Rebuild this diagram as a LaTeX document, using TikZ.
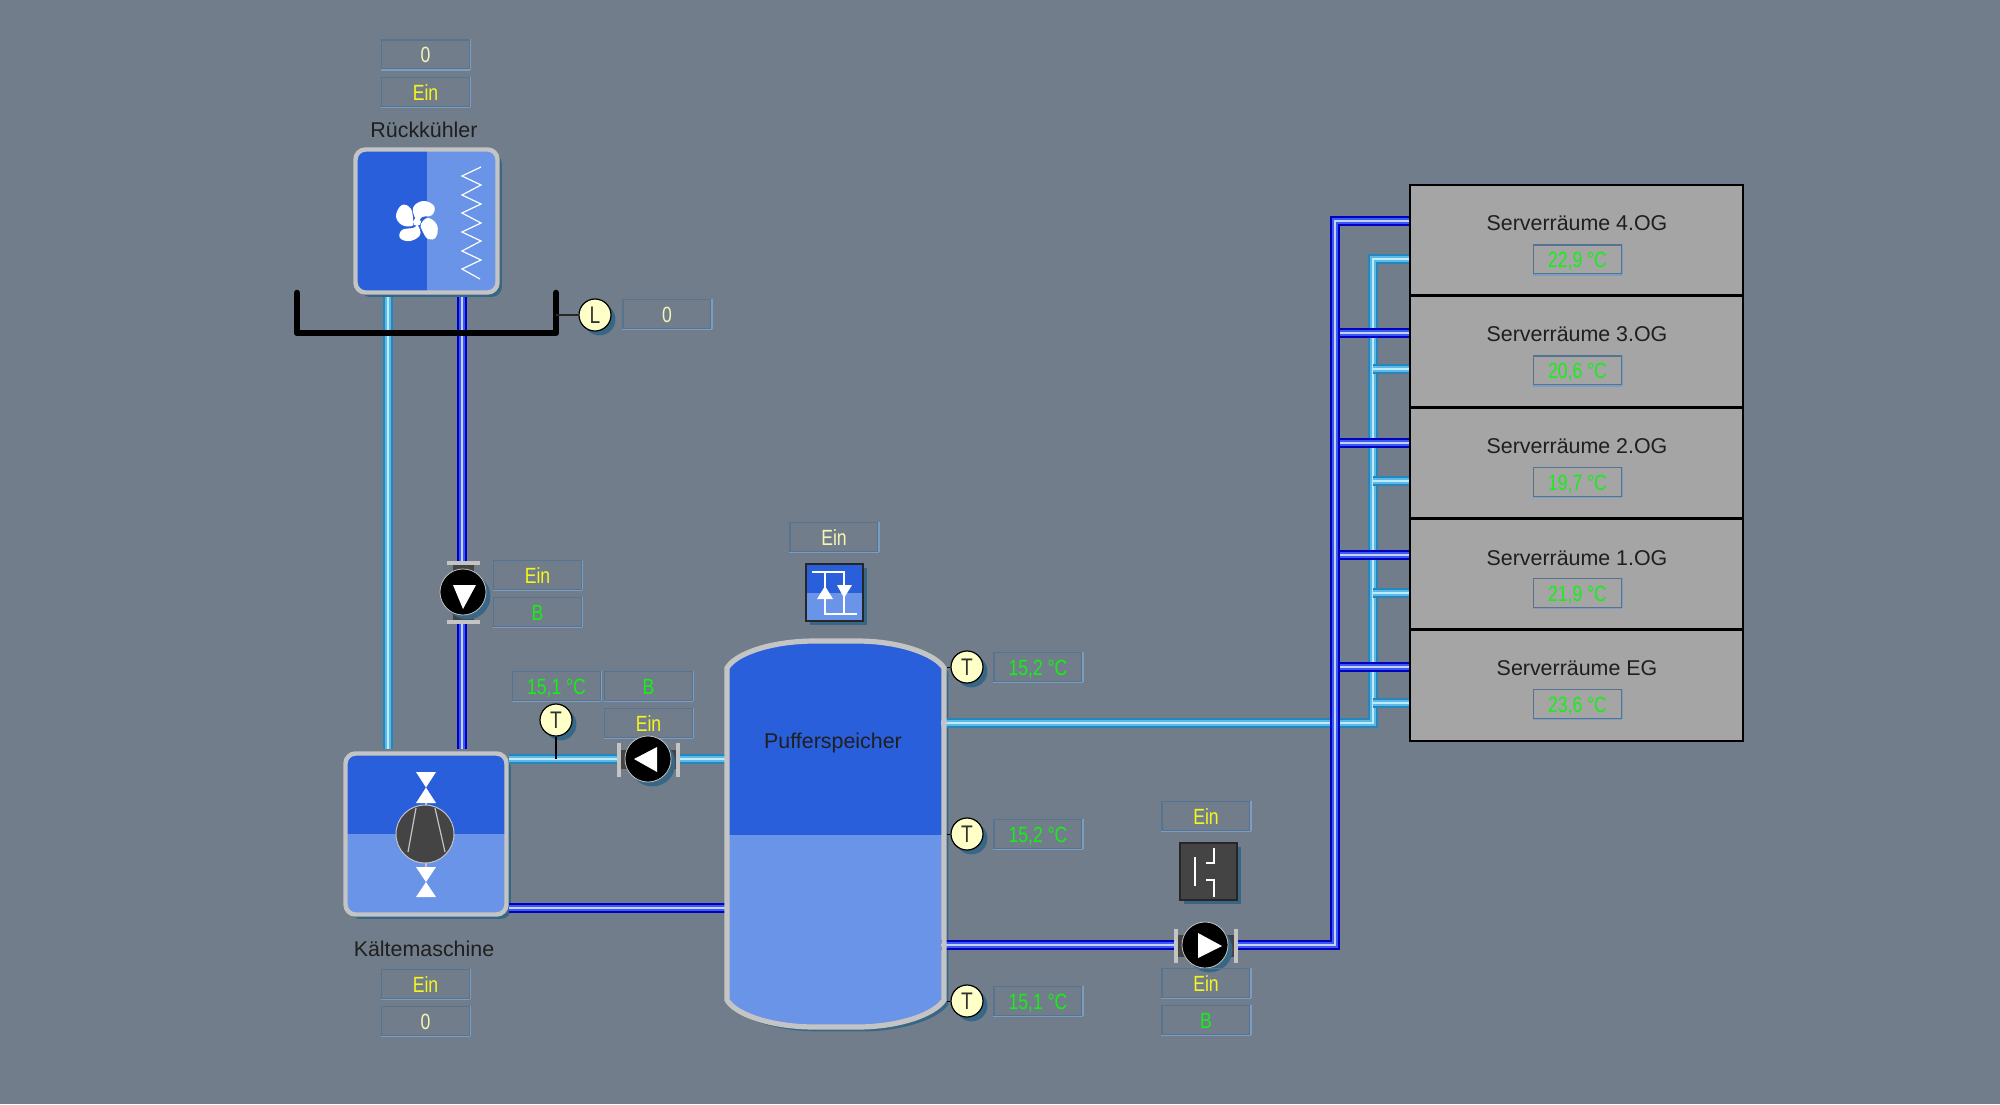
\documentclass[tikz,border=0pt]{standalone}
\usepackage{fontspec}
\usetikzlibrary{shadows}
\setmainfont{Liberation Sans}
\newfontfamily\valfont[FakeStretch=0.8]{Liberation Sans}
\definecolor{panelgray}{HTML}{717D8A}
\definecolor{shadowblue}{HTML}{386786}
\definecolor{framegray}{HTML}{C4C4C4}
\definecolor{mediumdark}{HTML}{2A5FDC}
\definecolor{mediumlight}{HTML}{6A94E8}
\definecolor{boxdark}{HTML}{56738F}
\definecolor{boxlight}{HTML}{7C9DC0}
\definecolor{roomgray}{HTML}{A5A5A5}
\definecolor{sensorfill}{HTML}{FFFFC8}
\definecolor{pumpbody}{HTML}{444444}
\definecolor{hotedge}{HTML}{0000C4}
\definecolor{hotmid}{HTML}{3C5AF0}
\definecolor{hotcore}{HTML}{C4D2FF}
\definecolor{coldedge}{HTML}{2586BE}
\definecolor{coldmid}{HTML}{5CB8E4}
\definecolor{coldcore}{HTML}{BDEBFA}
\definecolor{valgreen}{HTML}{14F014}
\definecolor{valyellow}{HTML}{F6F61E}
\definecolor{valpale}{HTML}{F6F6B4}
\newcommand{\tankoutline}{(727,668) .. controls (735,654) and (770,641) .. (815,641) -- (857,641)
        .. controls (900,641) and (935,654) .. (944,668)
        -- (944,1000) .. controls (935,1014) and (900,1027) .. (857,1027) -- (815,1027)
        .. controls (770,1027) and (735,1014) .. (727,1000) -- cycle}
\tikzset{
    plate/.style={drop shadow={opacity=1,fill=shadowblue,shadow xshift=2.2pt,shadow yshift=-2.2pt}},
    boxside/.style={draw=boxlight, line width=0.8pt},
    valbox/.style={draw=boxdark, line width=0.8pt, minimum width=44pt, minimum height=14.5pt, inner sep=0pt,
        text height=8pt, text depth=0pt, font=\valfont\fontsize{11}{11}\selectfont,
        append after command={(\tikzlastnode.south west) edge[boxside] (\tikzlastnode.south east)
            (\tikzlastnode.north east) edge[boxside] (\tikzlastnode.south east)}},
    ongreen/.style={valbox, text=valgreen},
    onyellow/.style={valbox, text=valyellow},
    onpale/.style={valbox, text=valpale},
    plainlabel/.style={inner sep=0pt, text=black!88, text height=8pt, text depth=0pt, font=\fontsize{10.7}{10.7}\selectfont},
    unit/.style={plate, draw=framegray, line width=2.2pt, rounded corners=5pt, inner sep=0pt},
    tinybox/.style={plate, draw=black!85, line width=1pt, minimum size=28.5pt, inner sep=0pt},
    room/.style={draw=black, fill=roomgray, line width=0.9pt, minimum width=166.5pt, inner sep=0pt},
    sensor/.style={plate, circle, draw=black, fill=sensorfill, line width=0.6pt, minimum size=16pt, inner sep=0pt, text=black!80, font=\valfont\fontsize{12}{12}\selectfont},
    hotpipe/.style={draw=hotcore, line width=1pt, preaction={draw=hotedge, line width=5pt}, preaction={draw=hotmid, line width=3pt}},
    coldpipe/.style={draw=coldcore, line width=1pt, preaction={draw=coldedge, line width=5pt}, preaction={draw=coldmid, line width=3pt}},
    wire/.style={draw=white, line width=0.6pt},
    flange/.style={framegray, line width=2pt},
    rotor/.style={plate, circle, fill=black, draw=framegray, line width=0.4pt, minimum size=23pt, inner sep=0pt},
    arrowhead/.style={fill=white, draw=none},
    blade/.style={fill=white, smooth cycle, tension=0.7}
}
\begin{document}
\begin{tikzpicture}[x=0.5pt, y=-0.5pt]
    \useasboundingbox[fill=panelgray] (0,0) rectangle (2000,1104);

    \node[unit, minimum width=71pt, minimum height=71.5pt, fill=mediumlight,
        path picture={\fill[mediumdark, sharp corners] (path picture bounding box.north west) rectangle (path picture bounding box.south);}]
        (RK) at (426.5,221) {};
    \node[unit, minimum width=80.5pt, minimum height=80.5pt, fill=mediumlight,
        path picture={\fill[mediumdark, sharp corners] (path picture bounding box.north west) rectangle (path picture bounding box.east);}]
        (KM) at (426,834) {};
    \fill[plate, mediumlight] \tankoutline;
    \begin{scope}
        \clip \tankoutline;
        \fill[mediumdark] (720,635) rectangle (950,835);
    \end{scope}

    \coordinate (RKcold) at (388,297);
    \coordinate (RKhot) at (462,297);
    \coordinate (KMcold) at (388,749);
    \coordinate (KMhot) at (462,749);
    \coordinate (KMout) at (509,759);
    \coordinate (KMret) at (509,908);
    \coordinate (BufIn) at (727,759);
    \coordinate (BufRet) at (727,908);
    \coordinate (BufOut) at (941,723);
    \coordinate (BufHot) at (941,945);

    \draw[coldpipe] (RKcold) -- (KMcold);
    \draw[hotpipe] (RKhot) -- (KMhot);
    \draw[coldpipe] (KMout) -- (BufIn);
    \draw[hotpipe] (KMret) -- (BufRet);

    \node[room, minimum height=55pt] (R4) at (1576.5,240) {};
    \node[room, minimum height=56pt] (R3) at (1576.5,351) {};
    \node[room, minimum height=55.5pt] (R2) at (1576.5,462.5) {};
    \node[room, minimum height=55.5pt] (R1) at (1576.5,573.5) {};
    \node[room, minimum height=56pt] (R0) at (1576.5,685) {};
    \draw[black, line width=1.5pt] (R4.south west) -- (R4.south east);
    \draw[black, line width=1.5pt] (R3.south west) -- (R3.south east);
    \draw[black, line width=1.5pt] (R2.south west) -- (R2.south east);
    \draw[black, line width=1.5pt] (R1.south west) -- (R1.south east);

    \coordinate (ColdUp) at (1373,723);
    \coordinate (HotUp) at (1335,945);
    \coordinate (Cold4) at (1409,259);
    \coordinate (Cold3) at (1409,369);
    \coordinate (Cold2) at (1409,481);
    \coordinate (Cold1) at (1409,593);
    \coordinate (Cold0) at (1409,703);
    \coordinate (Hot4) at (1409,221);
    \coordinate (Hot3) at (1409,333);
    \coordinate (Hot2) at (1409,443);
    \coordinate (Hot1) at (1409,555);
    \coordinate (Hot0) at (1409,667);

    \draw[coldpipe] (BufOut) -- (ColdUp) |- (Cold4);
    \draw[coldpipe] (ColdUp |- Cold3) -- (Cold3);
    \draw[coldpipe] (ColdUp |- Cold2) -- (Cold2);
    \draw[coldpipe] (ColdUp |- Cold1) -- (Cold1);
    \draw[coldpipe] (ColdUp |- Cold0) -- (Cold0);
    \draw[hotpipe] (HotUp |- Hot3) -- (Hot3);
    \draw[hotpipe] (HotUp |- Hot2) -- (Hot2);
    \draw[hotpipe] (HotUp |- Hot1) -- (Hot1);
    \draw[hotpipe] (HotUp |- Hot0) -- (Hot0);
    \draw[hotpipe] (BufHot) -- (HotUp) |- (Hot4);

    \coordinate (Wall1) at (947,667);
    \coordinate (Wall2) at (947,834);
    \coordinate (Wall3) at (947,1001);
    \draw[framegray, line width=2.6pt] \tankoutline;
    \node[plainlabel] (Buffer) at (833,740) {Pufferspeicher};

    \draw[line width=3.3pt, line cap=round, line join=round, black] (297,293) -- (297,333) -- (556,333) -- (556,293);
    \coordinate (Tub) at (556,315);

    \fill[white] (417,222) circle [radius=4];
    \fill[white] plot[smooth cycle, tension=0.7] coordinates {(413,208) (423,201) (434,206) (432,215) (422,217) (417,221)};
    \fill[white] plot[smooth cycle, tension=0.7] coordinates {(421,224) (428,218) (437,225) (436,237) (428,239) (422,230)};
    \fill[white] plot[smooth cycle, tension=0.7] coordinates {(418,226) (413,228) (402,230) (400,238) (410,241) (420,235)};
    \fill[white] plot[smooth cycle, tension=0.7] coordinates {(402,205) (411,209) (413,222) (412,226) (402,225) (396,216)};
    \draw[wire] (481,167) -- (462,176) -- (481,185) -- (462,195) -- (481,204) -- (462,213) -- (481,223) -- (462,232) -- (481,241) -- (462,251) -- (481,260) -- (462,269) -- (480,279);

    \draw[framegray, line width=0.6pt] (426,790) -- (426,880);
    \fill[white] (416,772) -- (436,772) -- (416,803) -- (436,803) -- cycle;
    \fill[white] (416,867) -- (436,867) -- (416,897) -- (436,897) -- cycle;
    \node[circle, fill=pumpbody, draw=framegray, line width=0.5pt, minimum size=29pt, inner sep=0pt] (Comp) at (425,834) {};
    \draw[framegray, line width=0.6pt] (416,808) -- (408,852);
    \draw[framegray, line width=0.6pt] (435,808) -- (445,852);

    \node[onpale] (RKcount) at (425.5,54.5) {0};
    \node[onyellow] (RKstate) at (425.5,92) {Ein};
    \node[plainlabel] (RKname) at (424,129) {Rückkühler};
    \node[plainlabel] (KMname) at (424,948) {Kältemaschine};
    \node[onyellow] (KMstate) at (425.5,984) {Ein};
    \node[onpale] (KMcount) at (425.5,1021) {0};

    \node[sensor] (LS) at (595,315) {L};
    \draw[black!85, line width=0.9pt] (Tub) -- (LS);
    \node[onpale] (LSval) at (667,314) {0};

    \fill[pumpbody] (453,563) rectangle (474,622);
    \draw[flange] (447,563) -- (480,563);
    \draw[flange] (447,622) -- (480,622);
    \node[rotor] (PumpA) at (463,592) {};
    \fill[arrowhead] (453,585) -- (476,585) -- (463,609) -- cycle;
    \node[onyellow] (PumpAstate) at (537.5,575) {Ein};
    \node[ongreen] (PumpAmode) at (537.5,612) {B};

    \node[ongreen] (Tkmval) at (556.5,686) {15,1 °C};
    \node[sensor] (Tkm) at (556,720) {T};
    \coordinate (TkmPipe) at (556,759);
    \draw[black, line width=0.7pt] (Tkm) -- (TkmPipe);
    \node[ongreen] (PumpBmode) at (648.5,686) {B};
    \node[onyellow] (PumpBstate) at (648.5,723) {Ein};
    \fill[pumpbody] (619,750) rectangle (678,769);
    \draw[flange] (619,743) -- (619,777);
    \draw[flange] (678,743) -- (678,777);
    \node[rotor] (PumpB) at (648,759) {};
    \fill[arrowhead] (634,759) -- (657,747) -- (657,772) -- cycle;

    \node[onpale] (Xstate) at (834,537) {Ein};
    \node[tinybox, fill=mediumlight,
        path picture={\fill[mediumdark] (path picture bounding box.north west) rectangle (path picture bounding box.east);}]
        (Xchg) at (834,592.5) {};
    \draw[wire] (812,572) -- (844,572) -- (844,614);
    \draw[wire] (825,572) -- (825,614) -- (857,614);
    \fill[white] (825,586) -- (817,599) -- (833,599) -- cycle;
    \fill[white] (837,585) -- (852,585) -- (844,598) -- cycle;

    \node[sensor] (T1) at (967,667) {T};
    \node[sensor] (T2) at (967,834) {T};
    \node[sensor] (T3) at (967,1001) {T};
    \draw[black, line width=0.5pt] (Wall1) -- (T1);
    \draw[black, line width=0.5pt] (Wall2) -- (T2);
    \draw[black, line width=0.5pt] (Wall3) -- (T3);
    \node[ongreen] (T1val) at (1038,667) {15,2 °C};
    \node[ongreen] (T2val) at (1038,834) {15,2 °C};
    \node[ongreen] (T3val) at (1038,1001) {15,1 °C};

    \node[onyellow] (PumpCtop) at (1206,816) {Ein};
    \node[tinybox, fill=pumpbody] (Ctrl) at (1208,871) {};
    \draw[wire] (1195,857) -- (1195,886);
    \draw[wire] (1206,863) -- (1214,863) -- (1214,848);
    \draw[wire] (1206,880) -- (1214,880) -- (1214,897);
    \fill[pumpbody] (1176,935) rectangle (1236,957);
    \draw[flange] (1176,929) -- (1176,963);
    \draw[flange] (1236,929) -- (1236,963);
    \node[rotor] (PumpC) at (1205,945) {};
    \fill[arrowhead] (1198,933) -- (1198,958) -- (1222,946) -- cycle;
    \node[onyellow] (PumpCstate) at (1206,983) {Ein};
    \node[ongreen] (PumpCmode) at (1206,1020) {B};

    \node[plainlabel] (R4name) at (1577,222) {Serverräume 4.OG};
    \node[plainlabel] (R3name) at (1577,333) {Serverräume 3.OG};
    \node[plainlabel] (R2name) at (1577,445) {Serverräume 2.OG};
    \node[plainlabel] (R1name) at (1577,557) {Serverräume 1.OG};
    \node[plainlabel] (R0name) at (1577,667) {Serverräume EG};
    \node[ongreen] (R4val) at (1577.5,259.5) {22,9 °C};
    \node[ongreen] (R3val) at (1577.5,370.5) {20,6 °C};
    \node[ongreen] (R2val) at (1577.5,482) {19,7 °C};
    \node[ongreen] (R1val) at (1577.5,593) {21,9 °C};
    \node[ongreen] (R0val) at (1577.5,704) {23,6 °C};
\end{tikzpicture}
\end{document}
